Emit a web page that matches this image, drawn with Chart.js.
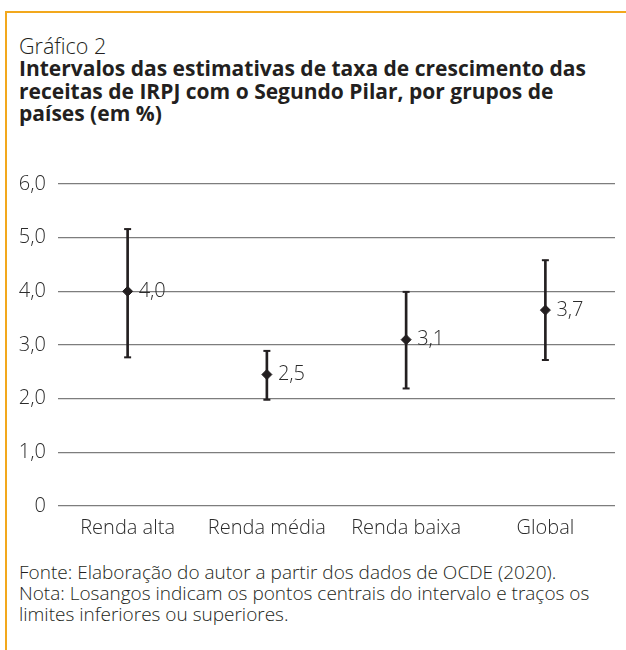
<!DOCTYPE html>
<html>
<head>
<meta charset="utf-8">
<script src="https://cdn.jsdelivr.net/npm/chart.js@4/dist/chart.umd.min.js"></script>
<style>
  html, body { margin: 0; padding: 0; background: #fff; }
  body { width: 626px; height: 650px; position: relative; overflow: hidden; font-family: 'Open Sans', sans-serif; color: #231f20; }
  .frame { position: absolute; left: 5px; top: 11px; width: 640px; height: 660px;
           border-top: 2.5px solid #f2a81d; border-left: 2.5px solid #f2a81d; }
  .head { position: absolute; left: 19px; top: 35px; white-space: nowrap; }
  .head .num { font-size: 21.5px; font-weight: 300; line-height: 22px; }
  .head .ttl { font-size: 21px; font-weight: 700; line-height: 22.5px; }
  .foot { position: absolute; left: 19px; top: 562px; font-size: 19px; font-weight: 300; line-height: 21px; color: #231f20; white-space: nowrap; }
  #wrap { position: absolute; left: 0; top: 160px; width: 626px; height: 386px; }
</style>
</head>
<body>
<div class="frame"></div>
<div class="head">
  <div class="num">Gráfico 2</div>
  <div class="ttl">Intervalos das estimativas de taxa de crescimento das<br>receitas de IRPJ com o Segundo Pilar, por grupos de<br>países (em %)</div>
</div>
<div id="wrap"><canvas id="chart"></canvas></div>
<div class="foot">Fonte: Elaboração do autor a partir dos dados de OCDE (2020).<br>Nota: Losangos indicam os pontos centrais do intervalo e traços os<br>limites inferiores ou superiores.</div>

<script>
// dados
const categories = ['Renda alta', 'Renda média', 'Renda baixa', 'Global'];
const centers = [4.0, 2.45, 3.1, 3.65];
const lows = [2.77, 1.98, 2.19, 2.72];
const highs = [5.16, 2.89, 3.99, 4.58];
const centerLabels = ['4,0', '2,5', '3,1', '3,7'];
const yTickLabels = ['0', '1,0', '2,0', '3,0', '4,0', '5,0', '6,0'];

const ink = '#231f20';
const fontFamily = "'Open Sans', sans-serif";

// rótulos ao lado dos losangos
const valueLabels = {
    id: 'valueLabels',
    afterDatasetsDraw(chart) {
        const meta = chart.getDatasetMeta(3);
        const c = chart.ctx;
        c.save();
        c.font = '300 20px ' + fontFamily;
        c.fillStyle = '#2b2b2b';
        c.textAlign = 'left';
        c.textBaseline = 'middle';
        meta.data.forEach((pt, i) => {
            c.fillText(centerLabels[i], pt.x + 11, pt.y);
        });
        c.restore();
    }
};

new Chart(document.getElementById('chart'), {
    type: 'line',
    data: {
        labels: categories,
        datasets: [
            {
                type: 'bar',
                data: lows.map((v, i) => [v, highs[i]]),
                backgroundColor: ink,
                barThickness: 2,
                order: 4
            },
            {
                data: lows,
                showLine: false,
                pointStyle: 'line',
                pointRadius: 3.5,
                borderColor: ink,
                borderWidth: 2,
                order: 3
            },
            {
                data: highs,
                showLine: false,
                pointStyle: 'line',
                pointRadius: 3.5,
                borderColor: ink,
                borderWidth: 2,
                order: 2
            },
            {
                data: centers,
                showLine: false,
                pointStyle: 'rectRot',
                pointRadius: 5,
                backgroundColor: ink,
                borderColor: ink,
                borderWidth: 1,
                order: 1
            }
        ]
    },
    options: {
        responsive: true,
        maintainAspectRatio: false,
        animation: false,
        layout: { padding: { top: 23, right: 11, left: 0, bottom: 0 } },
        plugins: {
            legend: { display: false },
            tooltip: { enabled: false }
        },
        scales: {
            x: {
                offset: true,
                grid: { display: false, drawTicks: false },
                border: { display: false },
                ticks: { color: '#2b2b2b', padding: 10, font: { family: fontFamily, size: 20, weight: 300 } },
                afterFit: (s) => { s.height = 40; }
            },
            y: {
                min: 0,
                max: 6,
                grid: { color: '#7d7d7d', lineWidth: 1.3, drawTicks: false },
                border: { display: false },
                ticks: {
                    stepSize: 1,
                    color: '#2b2b2b',
                    padding: 12,
                    font: { family: fontFamily, size: 20, weight: 300 },
                    callback: (v) => yTickLabels[v]
                },
                afterFit: (s) => { s.width = 58; }
            }
        }
    },
    plugins: [valueLabels]
});
</script>
</body>
</html>
